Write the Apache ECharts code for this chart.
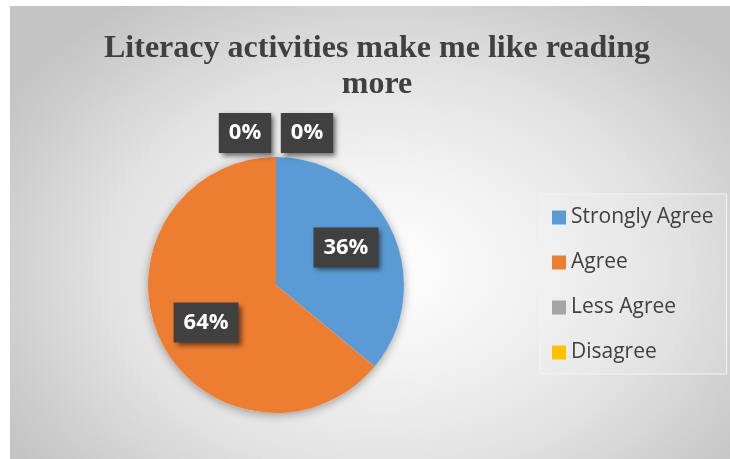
<!DOCTYPE html>
<html>
<head>
<meta charset="utf-8">
<script src="https://cdn.jsdelivr.net/npm/echarts@6/dist/echarts.min.js"></script>
<style>
  html, body { margin: 0; padding: 0; background: #ffffff; }
  #bg {
    position: absolute; left: 10px; top: 6px; width: 720px; height: 453px;
    background: radial-gradient(ellipse 62% 72% at 52% 58%, #ffffff 0%, #f3f3f3 30%, #e2e2e2 62%, #cdcdcd 88%, #c4c4c4 100%);
  }
  #chart { position: absolute; left: 0; top: 0; width: 730px; height: 459px; }
</style>
</head>
<body>
<div id="bg"></div>
<div id="chart"></div>
<script>
const titleText = 'Literacy activities make me like reading\nmore';
const categories = ['Strongly Agree', 'Agree', 'Less Agree', 'Disagree'];
const values = [36, 64, 0, 0];
const colors = ['#5B9BD5', '#ED7D31', '#A5A5A5', '#FFC000'];

const CX = 276, CY = 285, R = 128;

const chart = echarts.init(document.getElementById('chart'), null, { renderer: 'canvas' });

const pieData = categories.map((c, i) => ({ name: c, value: values[i], itemStyle: { color: colors[i] } }));
const total = values.reduce((a, b) => a + b, 0);

chart.setOption({
  backgroundColor: 'transparent',
  animation: false,
  title: {
    text: titleText,
    left: 372,
    top: 26,
    textAlign: 'center',
    textStyle: {
      fontFamily: 'Liberation Serif',
      fontWeight: 'bold',
      fontSize: 32,
      lineHeight: 36,
      color: '#404040'
    }
  },
  legend: {
    data: categories,
    orient: 'vertical',
    left: 540,
    top: 194,
    padding: [13, 13, 11, 12],
    itemGap: 24,
    itemWidth: 14,
    itemHeight: 14,
    icon: 'rect',
    backgroundColor: 'rgba(255,255,255,0.12)',
    borderColor: '#f4f4f4',
    borderWidth: 1,
    textStyle: {
      fontFamily: 'Open Sans',
      fontSize: 21,
      lineHeight: 21,
      color: '#404040'
    }
  },
  series: [
    {
      type: 'pie',
      silent: true,
      z: 1,
      center: [CX, CY],
      radius: R,
      label: { show: false },
      labelLine: { show: false },
      itemStyle: {
        color: '#ffffff',
        shadowBlur: 10,
        shadowColor: 'rgba(0,0,0,0.35)',
        shadowOffsetY: 2
      },
      data: [{ name: '__shadow', value: 1 }],
      legendHoverLink: false
    },
    {
      type: 'pie',
      z: 2,
      center: [CX, CY],
      radius: R,
      startAngle: 90,
      clockwise: true,
      avoidLabelOverlap: false,
      data: pieData,
      label: {
        show: true,
        position: 'inside',
        formatter: '{d}%',
        fontFamily: 'Open Sans',
        fontWeight: 'bold',
        fontSize: 22,
        lineHeight: 22,
        color: '#ffffff',
        backgroundColor: '#404040',
        padding: [9, 10, 9, 10],
        shadowColor: 'rgba(0,0,0,0.55)',
        shadowBlur: 5,
        shadowOffsetX: 3,
        shadowOffsetY: 3
      },
      labelLine: { show: false },
      labelLayout: function (params) {
        const i = params.dataIndex;
        if (values[i] === 0) {
          const side = (i === 2) ? -1 : 1;
          return { x: CX + side * 31, y: CY - R - 24, align: 'center', verticalAlign: 'middle' };
        }
        let cum = 0;
        for (let j = 0; j < i; j++) cum += values[j];
        const mid = (90 - 360 * (cum + values[i] / 2) / total + 3) * Math.PI / 180;
        const dist = 0.62 * R;
        return {
          x: CX + dist * Math.cos(mid),
          y: CY - dist * Math.sin(mid),
          align: 'center',
          verticalAlign: 'middle'
        };
      }
    }
  ]
});
</script>
</body>
</html>
